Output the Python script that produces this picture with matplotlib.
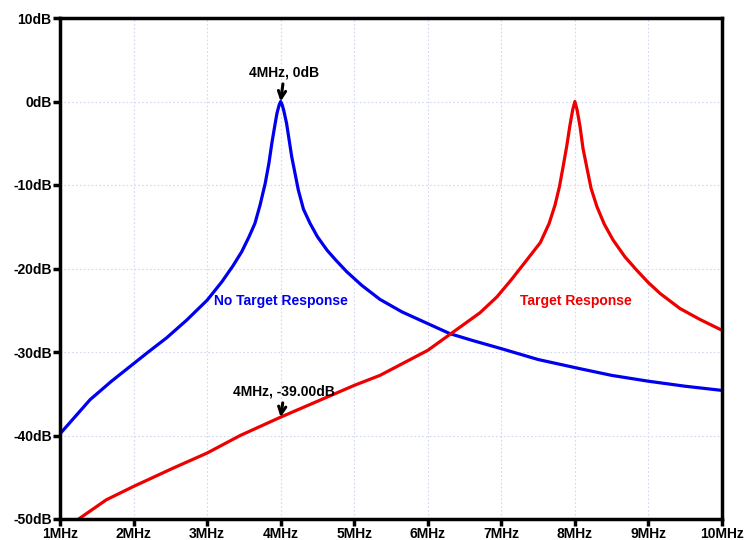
import matplotlib.pyplot as plt

# частоты в МГц и уровни в дБ
freq_blue = [1.0, 1.2, 1.41, 1.7, 2.0, 2.2, 2.45, 2.72, 3.0, 3.2, 3.35, 3.47, 3.57, 3.65, 3.72,
             3.79, 3.84, 3.88, 3.92, 3.95, 3.98, 4.0, 4.02, 4.04, 4.08, 4.15, 4.24, 4.31,
             4.40, 4.5, 4.63, 4.75, 4.90, 5.1, 5.35, 5.65, 6.0, 6.3, 6.6, 7.0, 7.5, 8.07,
             8.5, 9.0, 9.5, 10.0]
db_blue = [-39.8, -37.8, -35.7, -33.5, -31.4, -30.0, -28.3, -26.2, -23.8, -21.6, -19.7, -18.0,
           -16.2, -14.6, -12.4, -9.8, -7.4, -5.0, -2.9, -1.4, -0.4, 0.0, -0.4, -1.0, -2.6,
           -6.6, -10.6, -12.9, -14.6, -16.2, -17.8, -19.0, -20.4, -22.0, -23.7, -25.2, -26.6,
           -27.8, -28.6, -29.6, -30.9, -32.0, -32.8, -33.5, -34.1, -34.6]

freq_red = [1.27, 1.63, 2.0, 2.54, 3.0, 3.45, 4.0, 4.5, 5.0, 5.35, 6.0, 6.3, 6.71, 6.94, 7.14,
            7.3, 7.53, 7.65, 7.73, 7.79, 7.84, 7.89, 7.93, 7.97, 8.0, 8.03, 8.07, 8.11, 8.16,
            8.22, 8.30, 8.4, 8.52, 8.68, 8.84, 9.0, 9.16, 9.43, 9.7, 10.0]
db_red = [-49.9, -47.7, -46.1, -43.9, -42.1, -40.0, -37.8, -35.9, -34.0, -32.8, -29.8, -27.9,
          -25.3, -23.4, -21.3, -19.5, -16.9, -14.6, -12.4, -10.2, -7.8, -5.3, -3.0, -1.0,
          0.0, -1.0, -3.0, -5.6, -7.8, -10.4, -12.6, -14.7, -16.6, -18.6, -20.2, -21.7,
          -23.0, -24.8, -26.1, -27.4]

xticks = [1, 2, 3, 4, 5, 6, 7, 8, 9, 10]
yticks = [-50, -40, -30, -20, -10, 0, 10]

plt.rcParams['font.family'] = ['Liberation Sans', 'DejaVu Sans']
plt.rcParams['font.weight'] = 'bold'

fig = plt.figure(figsize=(7.55, 5.40), dpi=100)
ax = fig.add_axes([60/755, 21/540, 662/755, 501/540])

ax.plot(freq_blue, db_blue, color='#0000ee', lw=2.3)
ax.plot(freq_red, db_red, color='#ee0000', lw=2.3)

ax.set_xlim(1, 10)
ax.set_ylim(-50, 10)
ax.set_xticks(xticks)
ax.set_xticklabels([f"{t}MHz" for t in xticks])
ax.set_yticks(yticks)
ax.set_yticklabels([f"{t}dB" for t in yticks])
ax.tick_params(direction='out', length=5, width=2.5, labelsize=10, pad=1)
for lbl in ax.get_xticklabels() + ax.get_yticklabels():
    lbl.set_fontweight('bold')
for s in ax.spines.values():
    s.set_linewidth(2.5)
ax.grid(True, color='#d4d8f0', linestyle=(0, (1.5, 2)), linewidth=0.8)

ax.text(3.1, -24.4, "No Target Response", color='#0000ee', fontsize=10, fontweight='bold')
ax.text(7.25, -24.4, "Target Response", color='#ee0000', fontsize=10, fontweight='bold')

ax.annotate("4MHz, 0dB", xy=(4.0, 0.0), xytext=(4.05, 2.6), ha='center', va='bottom',
            fontsize=10, fontweight='bold',
            arrowprops=dict(arrowstyle='->', color='black', lw=2.2, mutation_scale=13,
                            shrinkA=1, shrinkB=0))
ax.annotate("4MHz, -39.00dB", xy=(4.0, -37.8), xytext=(4.05, -35.6), ha='center', va='bottom',
            fontsize=10, fontweight='bold',
            arrowprops=dict(arrowstyle='->', color='black', lw=2.2, mutation_scale=13,
                            shrinkA=1, shrinkB=0))

plt.savefig("out.png", dpi=100)
